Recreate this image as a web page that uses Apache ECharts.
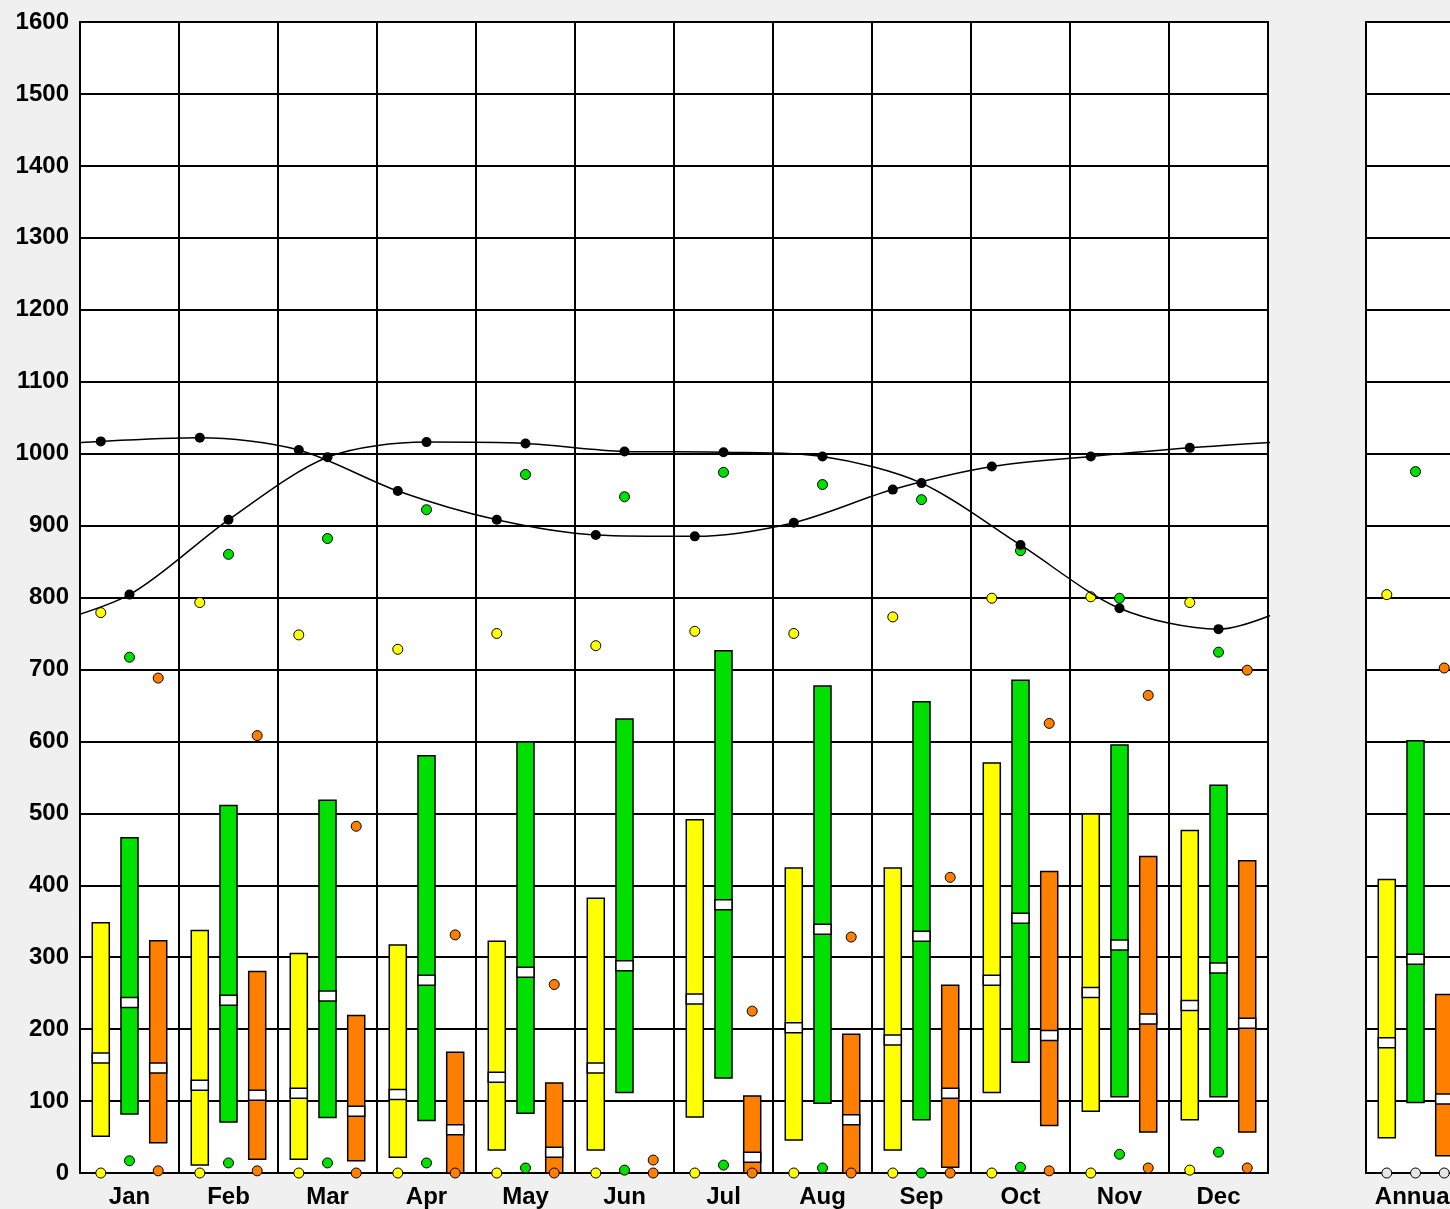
<!DOCTYPE html>
<html><head><meta charset="utf-8">
<script src="https://cdn.jsdelivr.net/npm/echarts@6/dist/echarts.min.js"></script>
<style>html,body{margin:0;padding:0;background:#f0f0f0;overflow:hidden;}#c{width:1500px;height:1209px;}</style>
</head><body><div id="c"></div>
<script>
const months = ['Jan','Feb','Mar','Apr','May','Jun','Jul','Aug','Sep','Oct','Nov','Dec'];
const annualLabel = ['Annual'];

// Yellow series
const yellowMax  = [779, 793, 748, 728, 750, 733, 753, 750, 773, 799, 801, 793];
const yellowHigh = [348, 337, 305, 317, 322, 382, 491, 424, 424, 570, 499, 476];
const yellowMed  = [160, 122, 111, 109, 133, 146, 242, 202, 185, 268, 251, 233];
const yellowLow  = [51, 11, 19, 22, 32, 32, 78, 46, 32, 112, 86, 74];
const yellowMin  = [0, 0, 0, 0, 0, 0, 0, 0, 0, 0, 0, 4];

// Green series
const greenMax  = [717, 860, 882, 922, 971, 940, 974, 957, 936, 865, 799, 724];
const greenHigh = [466, 511, 518, 580, 599, 631, 726, 677, 655, 685, 595, 539];
const greenMed  = [237, 240, 246, 268, 279, 288, 373, 339, 329, 354, 317, 285];
const greenLow  = [82, 71, 77, 73, 83, 112, 132, 97, 74, 154, 106, 106];
const greenMin  = [17, 14, 14, 14, 7, 4, 11, 7, 0, 8, 26, 29];

// Orange series
const orangeMax  = [688, 608, 482, 331, 262, 18, 225, 328, 411, 625, 664, 699];
const orangeHigh = [323, 280, 219, 168, 125, null, 107, 193, 261, 419, 440, 434];
const orangeMed  = [146, 108, 86, 60, 29, null, 22, 74, 111, 191, 214, 208];
const orangeLow  = [42, 19, 17, 0, 0, null, 0, 0, 8, 66, 57, 57];
const orangeMin  = [3, 3, 0, 0, 0, 0, 0, 0, 0, 3, 7, 7];

// Black curves
const curveA = [804, 908, 995, 1016, 1014, 1003, 1002, 996, 959, 873, 785, 756];
const curveB = [1017, 1022, 1005, 948, 908, 887, 885, 904, 950, 982, 996, 1008];

// Annual values [min, low, median, high, max]
const annualYellow = [0, 49, 181, 408, 804];
const annualGreen  = [0, 98, 297, 601, 975];
const annualOrange = [0, 24, 103, 248, 702];

const C = {y:'#ffff00', g:'#00e000', o:'#ff8000'};
const OFF = {y:0.21, g:0.5, o:0.79};
const BOXW = 0.172;

function boxRenderer(color){
  return function(params, api){
    const x = api.value(0), lo = api.value(1), med = api.value(2), hi = api.value(3);
    const pLo = api.coord([x, lo]), pHi = api.coord([x, hi]), pMed = api.coord([x, med]);
    const w = api.size([BOXW, 0])[0];
    return {type:'group', children:[
      {type:'rect', shape:{x:pLo[0]-w/2, y:pHi[1], width:w, height:pLo[1]-pHi[1]},
        style:{fill:color, stroke:'#000', lineWidth:1.5}},
      {type:'rect', shape:{x:pLo[0]-w/2, y:pMed[1]-5, width:w, height:10},
        style:{fill:'#fff', stroke:'#000', lineWidth:1.5}}
    ]};
  };
}
function boxes(lo, med, hi, off){
  const out = [];
  lo.forEach((v,i)=>{ if(v!=null && hi[i]!=null) out.push([i+off, v, med[i], hi[i]]); });
  return out;
}
function pts(arr, off){ return arr.map((v,i)=>[i+off, v]); }
function wrap(arr, off){
  const n = arr.length;
  const d = [[off-1, arr[n-1]]];
  arr.forEach((v,i)=>d.push([i+off, v]));
  d.push([n+off, arr[0]]);
  return d;
}

const series = [];
function addMonthly(lo, med, hi, mx, mn, off, color){
  series.push({type:'custom', xAxisIndex:0, yAxisIndex:0, renderItem:boxRenderer(color),
    data:boxes(lo, med, hi, off), z:3, encode:{x:0, y:[1,2,3]}});
  series.push({type:'scatter', xAxisIndex:0, yAxisIndex:0, data:pts(mx, off).concat(pts(mn, off)),
    symbol:'circle', symbolSize:10, itemStyle:{color:color, borderColor:'#000', borderWidth:1, opacity:1}, z:4});
}
addMonthly(yellowLow, yellowMed, yellowHigh, yellowMax, yellowMin, OFF.y, C.y);
addMonthly(greenLow, greenMed, greenHigh, greenMax, greenMin, OFF.g, C.g);
addMonthly(orangeLow, orangeMed, orangeHigh, orangeMax, orangeMin, OFF.o, C.o);

[curveA, curveB].forEach((arr, k)=>{
  series.push({type:'line', xAxisIndex:0, yAxisIndex:0, data:wrap(arr, k===0?OFF.g:OFF.y),
    smooth:0.3, symbol:'circle', symbolSize:10, showAllSymbol:true,
    lineStyle:{color:'#000', width:1.5}, itemStyle:{color:'#000'}, z:5, clip:true});
});

function addAnnual(a, off, color){
  series.push({type:'custom', xAxisIndex:2, yAxisIndex:1, renderItem:boxRenderer(color),
    data:[[off, a[1], a[2], a[3]]], z:3, encode:{x:0, y:[1,2,3]}});
  series.push({type:'scatter', xAxisIndex:2, yAxisIndex:1, data:[[off, a[4]]],
    symbol:'circle', symbolSize:10, itemStyle:{color:color, borderColor:'#000', borderWidth:1, opacity:1}, z:4});
  series.push({type:'scatter', xAxisIndex:2, yAxisIndex:1, data:[[off, a[0]]],
    symbol:'circle', symbolSize:10, itemStyle:{color:'#e6e6e6', borderColor:'#000', borderWidth:1, opacity:1}, z:4});
}
addAnnual(annualYellow, OFF.y, C.y);
addAnnual(annualGreen, OFF.g, C.g);
addAnnual(annualOrange, OFF.o, C.o);

const labelStyle = {fontSize:24, fontWeight:'bold', color:'#000', fontFamily:'Liberation Sans, Arial, sans-serif'};
const hiddenValX = (g, max) => ({gridIndex:g, type:'value', min:0, max:max, interval:1,
  axisLabel:{show:false}, axisLine:{show:false}, axisTick:{show:false},
  splitLine:{show:true, lineStyle:{color:'#000', width:2}}});
const catX = (g, data) => ({gridIndex:g, type:'category', data:data, position:'bottom',
  axisLabel:Object.assign({interval:0, margin:12}, labelStyle),
  axisLine:{show:false}, axisTick:{show:false}, splitLine:{show:false}});
const valY = (g, show) => ({gridIndex:g, type:'value', min:0, max:1600, interval:100,
  axisLabel:Object.assign({show:show, margin:11, formatter:(v)=>String(v)}, labelStyle),
  axisLine:{show:false}, axisTick:{show:false},
  splitLine:{show:true, lineStyle:{color:'#000', width:2}}});

const chart = echarts.init(document.getElementById('c'));
chart.setOption({
  backgroundColor:'#f0f0f0',
  animation:false,
  grid:[
    {left:80, top:22, width:1188, height:1152, show:true, backgroundColor:'#fff', borderColor:'#000', borderWidth:2},
    {left:1366, top:22, width:99, height:1152, show:true, backgroundColor:'#fff', borderColor:'#000', borderWidth:2}
  ],
  xAxis:[hiddenValX(0, 12), catX(0, months), hiddenValX(1, 1), catX(1, annualLabel)],
  yAxis:[valY(0, true), valY(1, false)],
  series:series
});
</script>
</body></html>
